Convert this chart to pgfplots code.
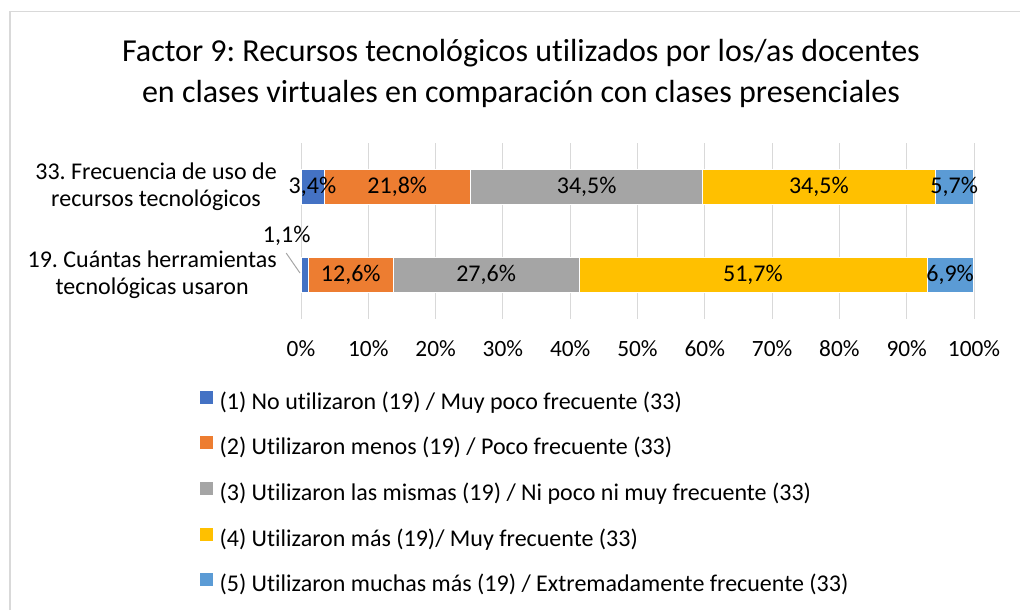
\documentclass[border=0pt]{standalone}
\usepackage{pgfplots}
\pgfplotsset{compat=1.18}
\usepackage{pgfplotstable}
\usepackage{fontspec}
\setmainfont{Carlito}[Ligatures={NoCommon}]
\frenchspacing
\definecolor{c1}{HTML}{4472C4}
\definecolor{c2}{HTML}{ED7D31}
\definecolor{c3}{HTML}{A5A5A5}
\definecolor{c4}{HTML}{FFC000}
\definecolor{c5}{HTML}{5B9BD5}
\definecolor{gridgray}{HTML}{D9D9D9}

% pos: 0 = item 19 (bottom), 1 = item 33 (top)
\pgfplotstableread{
pos v1 v2 v3 v4 v5 dx dy
0 1.1 12.6 27.6 51.7 6.9 -13.5 29
1 3.4 21.8 34.5 34.5 5.7 0 0
}\datatable

\begin{document}
\begin{tikzpicture}
\path[use as bounding box] (0,0) rectangle (765pt,457.5pt);
\draw[gridgray, line width=1.1pt] (7.5pt,0) -- (7.5pt,448.9pt) -- (765pt,448.9pt);
\node[anchor=base, font=\fontsize{24}{28}\selectfont] at (390.75pt,411.2pt)
  {Factor 9: Recursos tecnológicos utilizados por los/as docentes};
\node[anchor=base, font=\fontsize{24}{28}\selectfont] at (390.75pt,380.8pt)
  {en clases virtuales en comparación con clases presenciales};
\begin{axis}[
  at={(225.75pt,218.6pt)}, anchor=south west,
  width=504.75pt, height=132pt, scale only axis,
  xbar stacked, bar width=26.25pt,
  xmin=0, xmax=100, ymin=-0.5, ymax=1.5,
  xtick={0,10,...,100},
  xticklabel={\pgfmathprintnumber{\tick}\%},
  /pgf/number format/assume math mode=true,
  xmajorgrids, grid style={gridgray, line width=0.75pt},
  axis line style={draw=none}, tick style={draw=none},
  ytick={0,1},
  yticklabels={{19. Cuántas herramientas\\tecnológicas usaron},{33. Frecuencia de uso de\\recursos tecnológicos}},
  yticklabel style={align=center, inner sep=0pt, anchor=east, xshift=-18pt,
     font=\fontsize{18}{20.5}\selectfont},
  xticklabel style={anchor=base, inner sep=0pt, yshift=-28.6pt, font=\fontsize{17.5}{20}\selectfont},
  clip=false,
  nodes near coords={\pgfmathprintnumber[fixed,fixed zerofill,precision=1,use comma]{\pgfplotspointmeta}\%},
  every node near coord/.append style={font=\fontsize{18}{20}\selectfont, black, anchor=center, inner sep=0pt},
  legend style={at={(-0.150,-0.410)}, anchor=north west, draw=none, fill=none,
     inner sep=0pt, outer sep=0pt, row sep=16.5pt,
     font=\fontsize{18}{20}\selectfont,
     nodes={inner sep=0pt, text height=12pt, text depth=4pt},
     /tikz/every odd column/.append style={column sep=4.9pt}},
  legend cell align=left,
  legend image code/.code={\fill[#1,draw=none] (0pt,0pt) rectangle (9.75pt,9.75pt);},
]
\addplot[fill=c1, draw=white, line width=0.5pt,
  visualization depends on={\thisrow{dx} \as \ddx},
  visualization depends on={\thisrow{dy} \as \ddy},
  every node near coord/.append style={xshift=\ddx pt, yshift=\ddy pt}]
  table[y=pos, x=v1, meta=v1]{\datatable};
\addplot[fill=c2, draw=white, line width=0.5pt]
  table[y=pos, x=v2, meta=v2]{\datatable};
\addplot[fill=c3, draw=white, line width=0.5pt]
  table[y=pos, x=v3, meta=v3]{\datatable};
\addplot[fill=c4, draw=white, line width=0.5pt]
  table[y=pos, x=v4, meta=v4]{\datatable};
\addplot[fill=c5, draw=white, line width=0.5pt]
  table[y=pos, x=v5, meta=v5]{\datatable};
\draw[gray!70, line width=0.75pt] (axis cs:-2.2,0.244) -- (axis cs:-0.15,0.017);
\legend{(1) No utilizaron (19) / Muy poco frecuente (33),
(2) Utilizaron menos (19) / Poco frecuente (33),
(3) Utilizaron las mismas (19) / Ni poco ni muy frecuente (33),
(4) Utilizaron más (19)/ Muy frecuente (33),
(5) Utilizaron muchas más (19) / Extremadamente frecuente (33)}
\end{axis}
\end{tikzpicture}
\end{document}
